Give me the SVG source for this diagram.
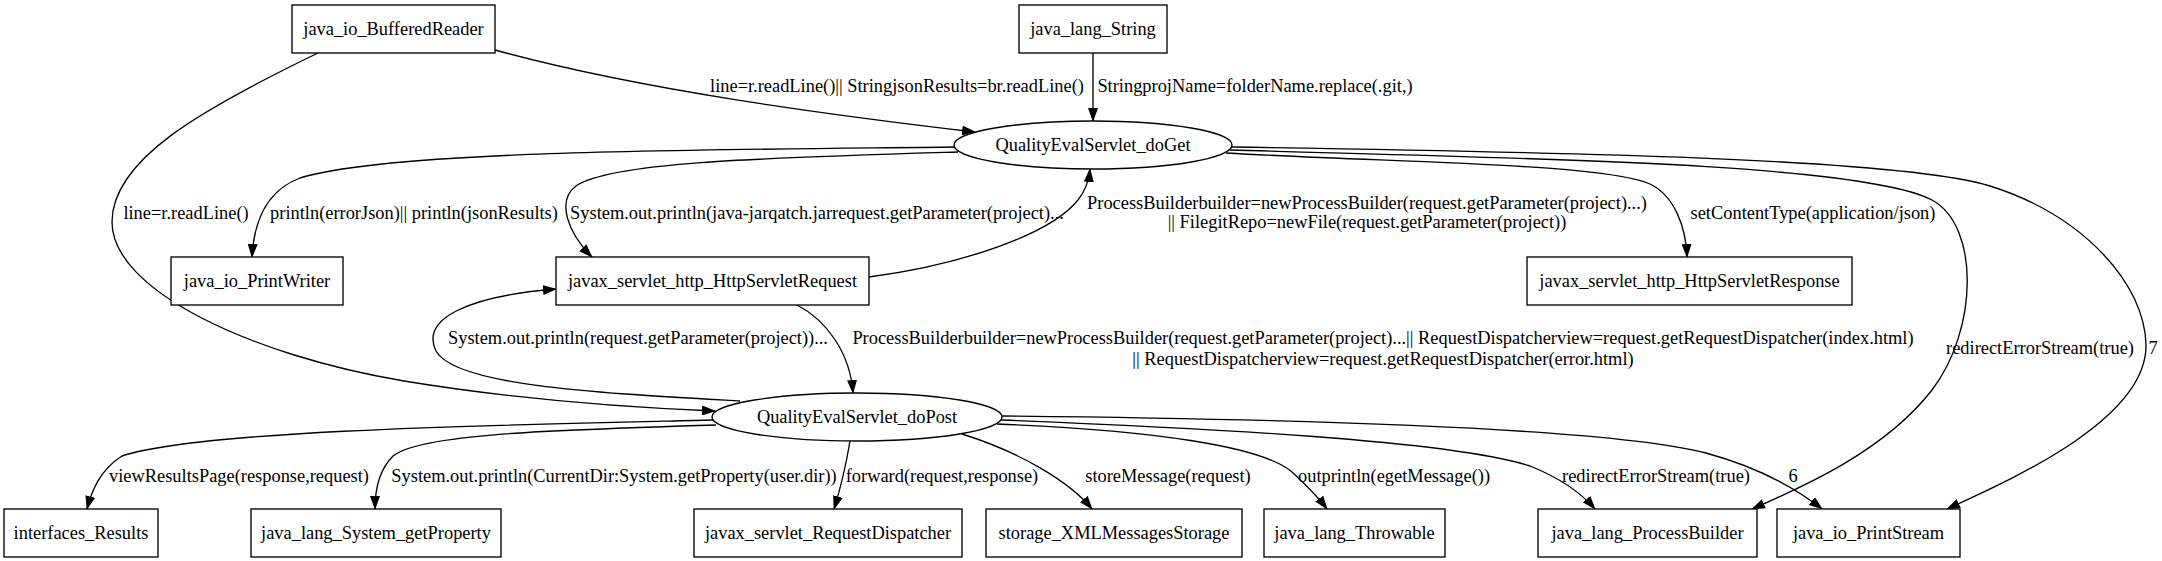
<svg xmlns="http://www.w3.org/2000/svg" width="2162" height="561" viewBox="0 0 2162 561">
<defs>
<marker id="ah" markerUnits="userSpaceOnUse" markerWidth="14" markerHeight="10" viewBox="0 0 14 10" refX="13" refY="5" orient="auto">
<path d="M0,0 L14,5 L0,10 z" fill="#000"/>
</marker>
<style>
text{font-family:"Liberation Serif","Times New Roman",serif;font-size:18.4px;fill:#000;text-anchor:middle}
.n rect,.n ellipse{fill:#fff;stroke:#000;stroke-width:1.33}
.e path{fill:none;stroke:#000;stroke-width:1.33;marker-end:url(#ah)}
</style>
</defs>
<rect width="2162" height="561" fill="#fff"/>
<g id="edges" class="e">
<path d="M495 50 C640 90,830 115,975 132"/>
<path d="M1093 53 L1093 121"/>
<path d="M318 53 C200 110,112 160,112 222 C112 290,250 355,404 381 C520 400,640 408,715 411"/>
<path d="M956 147 C700 150,390 150,300 178 C268 190,254 220,252 257"/>
<path d="M958 152 C760 158,610 162,576 186 C556 201,568 233,592 257"/>
<path d="M869 277 C960 265,1050 235,1078 200 C1086 190,1089 180,1090 169"/>
<path d="M1226 153 C1400 163,1600 163,1650 184 C1675 196,1686 228,1687 257"/>
<path d="M1230 150 C1500 158,1860 162,1932 200 C1980 226,1978 330,1932 390 C1884 452,1800 488,1752 509"/>
<path d="M1232 147 C1550 152,1900 158,1990 186 C2085 216,2145 285,2146 345 C2147 420,2010 480,1947 509"/>
<path d="M797 305 C826 320,850 352,853 393"/>
<path d="M740 401 C600 393,455 386,436 351 C420 318,470 296,556 289"/>
<path d="M713 420 C500 425,200 430,122 456 C100 470,92 490,87 509"/>
<path d="M716 425 C550 430,420 434,393 456 C379 470,375 490,375 509"/>
<path d="M850 441 C846 465,840 490,834 509"/>
<path d="M962 434 C1020 452,1070 482,1092 509"/>
<path d="M997 424 C1150 430,1262 446,1292 472 C1306 485,1318 497,1327 509"/>
<path d="M1001 420 C1200 428,1450 440,1530 466 C1560 478,1582 494,1595 509"/>
<path d="M1002 416 C1300 419,1610 428,1706 453 C1768 470,1803 494,1822 509"/>
</g>
<g id="edge-labels">
<text x="897" y="92">line=r.readLine()|| StringjsonResults=br.readLine()</text>
<text x="1255" y="92">StringprojName=folderName.replace(.git,)</text>
<text x="186" y="219">line=r.readLine()</text>
<text x="414" y="219">println(errorJson)|| println(jsonResults)</text>
<text x="817" y="219">System.out.println(java-jarqatch.jarrequest.getParameter(project)...</text>
<text x="1367" y="209">ProcessBuilderbuilder=newProcessBuilder(request.getParameter(project)...)</text>
<text x="1367" y="228">|| FilegitRepo=newFile(request.getParameter(project))</text>
<text x="1813" y="219">setContentType(application/json)</text>
<text x="2040" y="354">redirectErrorStream(true)</text>
<text x="2153" y="354">7</text>
<text x="1383" y="344">ProcessBuilderbuilder=newProcessBuilder(request.getParameter(project)...|| RequestDispatcherview=request.getRequestDispatcher(index.html)</text>
<text x="1383" y="365">|| RequestDispatcherview=request.getRequestDispatcher(error.html)</text>
<text x="638" y="344">System.out.println(request.getParameter(project))...</text>
<text x="239" y="482">viewResultsPage(response,request)</text>
<text x="614" y="482">System.out.println(CurrentDir:System.getProperty(user.dir))</text>
<text x="942" y="482">forward(request,response)</text>
<text x="1168" y="482">storeMessage(request)</text>
<text x="1394" y="482">outprintln(egetMessage())</text>
<text x="1656" y="482">redirectErrorStream(true)</text>
<text x="1793" y="482">6</text>
</g>
<g id="java_io_BufferedReader" class="n"><rect x="292" y="5" width="203" height="48"/><text x="393.5" y="35">java_io_BufferedReader</text></g>
<g id="java_lang_String" class="n"><rect x="1019" y="5" width="148" height="48"/><text x="1093" y="35">java_lang_String</text></g>
<g id="QualityEvalServlet_doGet" class="n"><ellipse cx="1093" cy="145" rx="139" ry="24"/><text x="1093" y="151">QualityEvalServlet_doGet</text></g>
<g id="java_io_PrintWriter" class="n"><rect x="171" y="257" width="172" height="48"/><text x="257" y="287">java_io_PrintWriter</text></g>
<g id="javax_servlet_http_HttpServletRequest" class="n"><rect x="556" y="257" width="313" height="48"/><text x="712.5" y="287">javax_servlet_http_HttpServletRequest</text></g>
<g id="javax_servlet_http_HttpServletResponse" class="n"><rect x="1527" y="257" width="325" height="48"/><text x="1689.5" y="287">javax_servlet_http_HttpServletResponse</text></g>
<g id="QualityEvalServlet_doPost" class="n"><ellipse cx="857" cy="417" rx="145" ry="24"/><text x="857" y="423">QualityEvalServlet_doPost</text></g>
<g id="interfaces_Results" class="n"><rect x="4" y="509" width="154" height="48"/><text x="81" y="539">interfaces_Results</text></g>
<g id="java_lang_System_getProperty" class="n"><rect x="251" y="509" width="250" height="48"/><text x="376" y="539">java_lang_System_getProperty</text></g>
<g id="javax_servlet_RequestDispatcher" class="n"><rect x="694" y="509" width="268" height="48"/><text x="828" y="539">javax_servlet_RequestDispatcher</text></g>
<g id="storage_XMLMessagesStorage" class="n"><rect x="986" y="509" width="256" height="48"/><text x="1114" y="539">storage_XMLMessagesStorage</text></g>
<g id="java_lang_Throwable" class="n"><rect x="1264" y="509" width="181" height="48"/><text x="1354.5" y="539">java_lang_Throwable</text></g>
<g id="java_lang_ProcessBuilder" class="n"><rect x="1538" y="509" width="219" height="48"/><text x="1647.5" y="539">java_lang_ProcessBuilder</text></g>
<g id="java_io_PrintStream" class="n"><rect x="1777" y="509" width="183" height="48"/><text x="1868.5" y="539">java_io_PrintStream</text></g>
</svg>
